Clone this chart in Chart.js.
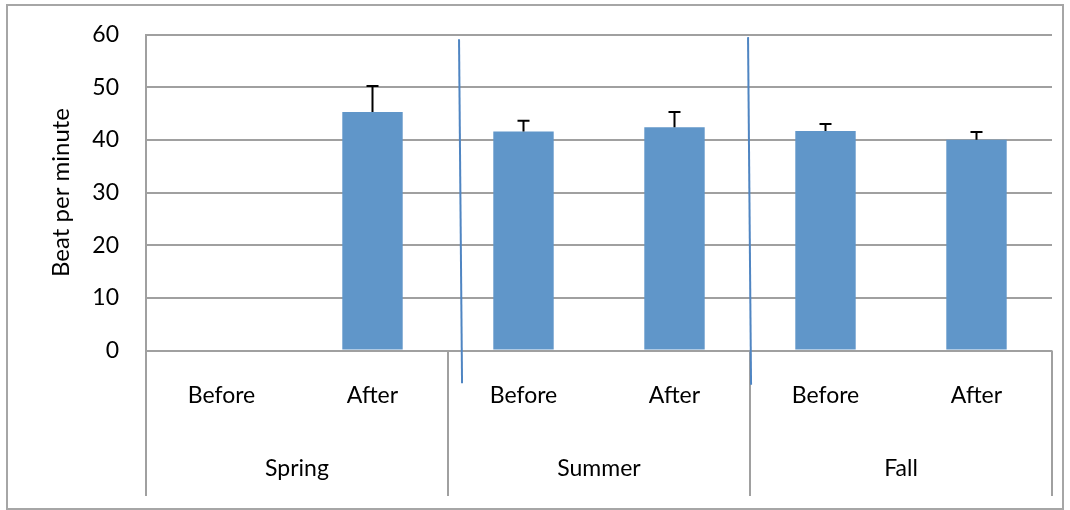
<!DOCTYPE html>
<html>
<head>
<meta charset="utf-8">
<script src="https://cdn.jsdelivr.net/npm/chart.js@4.4.1/dist/chart.umd.min.js"></script>
<style>
  html, body { margin: 0; padding: 0; background: #fff; }
  #wrap { width: 1070px; height: 510px; position: relative; }
</style>
</head>
<body>
<div id="wrap"><canvas id="c"></canvas></div>
<script>
const seasons = ['Spring', 'Summer', 'Fall'];
const phases = ['Before', 'After', 'Before', 'After', 'Before', 'After'];
const beats = [0, 45.3, 41.6, 42.4, 41.7, 40.0];
const errorUp = [0, 4.9, 2.0, 2.9, 1.3, 1.5];
const yTicks = [0, 10, 20, 30, 40, 50, 60];
// the two hand drawn blue separators, in axis units: [x0, y0, x1, y1]
const separators = [[1.573, 59.1, 1.593, -6.2], [3.487, 59.5, 3.507, -6.5]];

const gridGray = '#a0a0a0';

Chart.defaults.font.family = 'Lato';
Chart.defaults.font.size = 23;
Chart.defaults.color = '#000';

const extras = {
    id: 'extras',
    afterDatasetsDraw(chart) {
        const { ctx, scales: { x, y } } = chart;
        ctx.save();
        ctx.strokeStyle = '#000';
        ctx.lineWidth = 2;
        errorUp.forEach((e, i) => {
            if (!e) return;
            const px = x.getPixelForValue(i);
            const y1 = y.getPixelForValue(beats[i]);
            const y2 = y.getPixelForValue(beats[i] + e);
            ctx.beginPath();
            ctx.moveTo(px, y1); ctx.lineTo(px, y2);
            ctx.moveTo(px - 6, y2); ctx.lineTo(px + 6, y2);
            ctx.stroke();
        });
        ctx.restore();
    },
    afterDraw(chart) {
        const { ctx, chartArea, scales: { x, y, x2 } } = chart;
        ctx.save();
        // category boxes under the axis
        ctx.strokeStyle = gridGray;
        ctx.lineWidth = 2;
        for (let k = 0; k <= seasons.length; k++) {
            const px = chartArea.left + (chartArea.right - chartArea.left) * k / seasons.length;
            ctx.beginPath();
            ctx.moveTo(px, chartArea.bottom);
            ctx.lineTo(px, x2.bottom);
            ctx.stroke();
        }
        // blue separators
        ctx.strokeStyle = '#4f85c2';
        ctx.lineWidth = 2;
        separators.forEach(s => {
            ctx.beginPath();
            ctx.moveTo(x.getPixelForValue(s[0]), y.getPixelForValue(s[1]));
            ctx.lineTo(x.getPixelForValue(s[2]), y.getPixelForValue(s[3]));
            ctx.stroke();
        });
        // outer frame
        ctx.strokeStyle = '#a6a6a6';
        ctx.lineWidth = 2;
        ctx.strokeRect(7, 5, 1056, 504);
        ctx.restore();
    }
};

new Chart(document.getElementById('c'), {
    type: 'bar',
    data: {
        labels: phases,
        datasets: [{
            data: beats,
            backgroundColor: '#6096c9',
            borderWidth: 0,
            barPercentage: 0.4,
            categoryPercentage: 1
        }]
    },
    options: {
        responsive: true,
        maintainAspectRatio: false,
        animation: false,
        layout: { padding: { top: 34.5, right: 18, bottom: 14, left: 0 } },
        plugins: { legend: { display: false }, tooltip: { enabled: false } },
        scales: {
            y: {
                min: 0,
                max: 60,
                afterBuildTicks(s) { s.ticks = yTicks.map(v => ({ value: v })); },
                afterFit(s) { s.width = 146; s.paddingTop = 0; s.paddingBottom = 0; },
                grid: { color: gridGray, lineWidth: 2, drawTicks: false },
                border: { display: true, color: gridGray, width: 2 },
                ticks: { padding: 27 },
                title: {
                    display: true,
                    text: 'Beat per minute',
                    font: { size: 24 },
                    padding: { top: 47, bottom: 0 }
                }
            },
            x: {
                afterFit(s) { s.height = 78; },
                grid: { display: false, drawTicks: false },
                border: { display: false },
                ticks: { padding: 31, maxRotation: 0, autoSkip: false }
            },
            x2: {
                type: 'category',
                labels: seasons,
                position: 'bottom',
                offset: true,
                afterFit(s) { s.height = 67.5; },
                grid: { display: false, drawTicks: false },
                border: { display: false },
                ticks: { padding: 26, maxRotation: 0 }
            }
        }
    },
    plugins: [extras]
});
</script>
</body>
</html>
